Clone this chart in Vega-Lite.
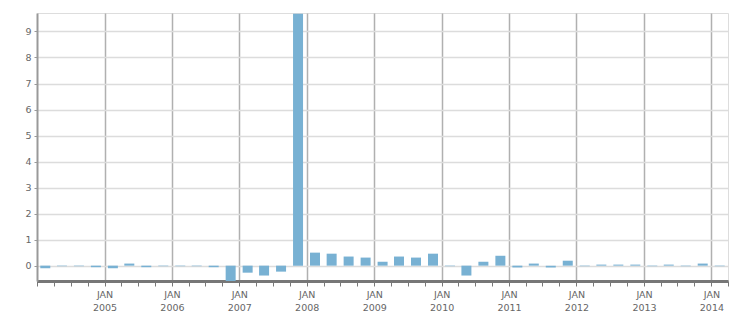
{
  "$schema": "https://vega.github.io/schema/vega-lite/v6.json",
  "width": 691,
  "height": 268,
  "autosize": {"type": "none"},
  "padding": {"left": 37, "top": 13, "right": 23, "bottom": 32},
  "background": "white",
  "config": {
    "view": {"stroke": "#dddddd", "strokeWidth": 1},
    "font": "DejaVu Sans"
  },
  "data": {
    "values": [
      {"date": "2004-02-15", "value": -0.10},
      {"date": "2004-05-15", "value": -0.02},
      {"date": "2004-08-15", "value": -0.02},
      {"date": "2004-11-15", "value": -0.06},
      {"date": "2005-02-15", "value": -0.10},
      {"date": "2005-05-15", "value": 0.08},
      {"date": "2005-08-15", "value": -0.06},
      {"date": "2005-11-15", "value": -0.02},
      {"date": "2006-02-15", "value": -0.02},
      {"date": "2006-05-15", "value": -0.02},
      {"date": "2006-08-15", "value": -0.06},
      {"date": "2006-11-15", "value": -0.70},
      {"date": "2007-02-15", "value": -0.27},
      {"date": "2007-05-15", "value": -0.38},
      {"date": "2007-08-15", "value": -0.23},
      {"date": "2007-11-15", "value": 9.68},
      {"date": "2008-02-15", "value": 0.50},
      {"date": "2008-05-15", "value": 0.46},
      {"date": "2008-08-15", "value": 0.35},
      {"date": "2008-11-15", "value": 0.31},
      {"date": "2009-02-15", "value": 0.15},
      {"date": "2009-05-15", "value": 0.35},
      {"date": "2009-08-15", "value": 0.31},
      {"date": "2009-11-15", "value": 0.46},
      {"date": "2010-02-15", "value": -0.02},
      {"date": "2010-05-15", "value": -0.38},
      {"date": "2010-08-15", "value": 0.15},
      {"date": "2010-11-15", "value": 0.38},
      {"date": "2011-02-15", "value": -0.07},
      {"date": "2011-05-15", "value": 0.08},
      {"date": "2011-08-15", "value": -0.07},
      {"date": "2011-11-15", "value": 0.19},
      {"date": "2012-02-15", "value": -0.02},
      {"date": "2012-05-15", "value": 0.04},
      {"date": "2012-08-15", "value": 0.04},
      {"date": "2012-11-15", "value": 0.04},
      {"date": "2013-02-15", "value": -0.02},
      {"date": "2013-05-15", "value": 0.04},
      {"date": "2013-08-15", "value": -0.02},
      {"date": "2013-11-15", "value": 0.08},
      {"date": "2014-02-15", "value": -0.02}
    ]
  },
  "mark": {"type": "bar", "width": 10, "color": "#78b1d3", "clip": true},
  "encoding": {
    "x": {
      "field": "date",
      "type": "temporal",
      "scale": {
        "domain": [{"year": 2004, "month": 1, "date": 1}, {"year": 2014, "month": 4, "date": 1}],
        "nice": false,
        "padding": 0
      },
      "axis": {
        "title": null,
        "tickCount": {"interval": "month", "step": 3},
        "grid": true,
        "gridColor": "#b0b0b0",
        "gridWidth": 1.5,
        "gridOpacity": {"condition": {"test": "month(datum.value) == 0 && year(datum.value) > 2004", "value": 1}, "value": 0},
        "domainColor": "#777777",
        "domainWidth": 3,
        "tickColor": "#777777",
        "tickSize": 5,
        "tickWidth": 1,
        "labelExpr": "month(datum.value) == 0 && year(datum.value) > 2004 ? ['JAN', timeFormat(datum.value, '%Y')] : ''",
        "labelColor": "#666666",
        "labelFont": "DejaVu Sans",
        "labelFontSize": 9.5,
        "labelLineHeight": 13,
        "labelPadding": 3,
        "labelOverlap": false,
        "labelFlush": false
      }
    },
    "y": {
      "field": "value",
      "type": "quantitative",
      "scale": {"domain": [-0.59, 9.71], "nice": false, "zero": false},
      "axis": {
        "title": null,
        "values": [0, 1, 2, 3, 4, 5, 6, 7, 8, 9],
        "grid": true,
        "gridColor": "#dcdcdc",
        "gridWidth": 1.5,
        "domainColor": "#999999",
        "domainWidth": 2,
        "tickColor": "#999999",
        "tickSize": 3,
        "labelColor": "#666666",
        "labelFont": "DejaVu Sans",
        "labelFontSize": 9.5,
        "labelPadding": 3
      }
    }
  }
}
